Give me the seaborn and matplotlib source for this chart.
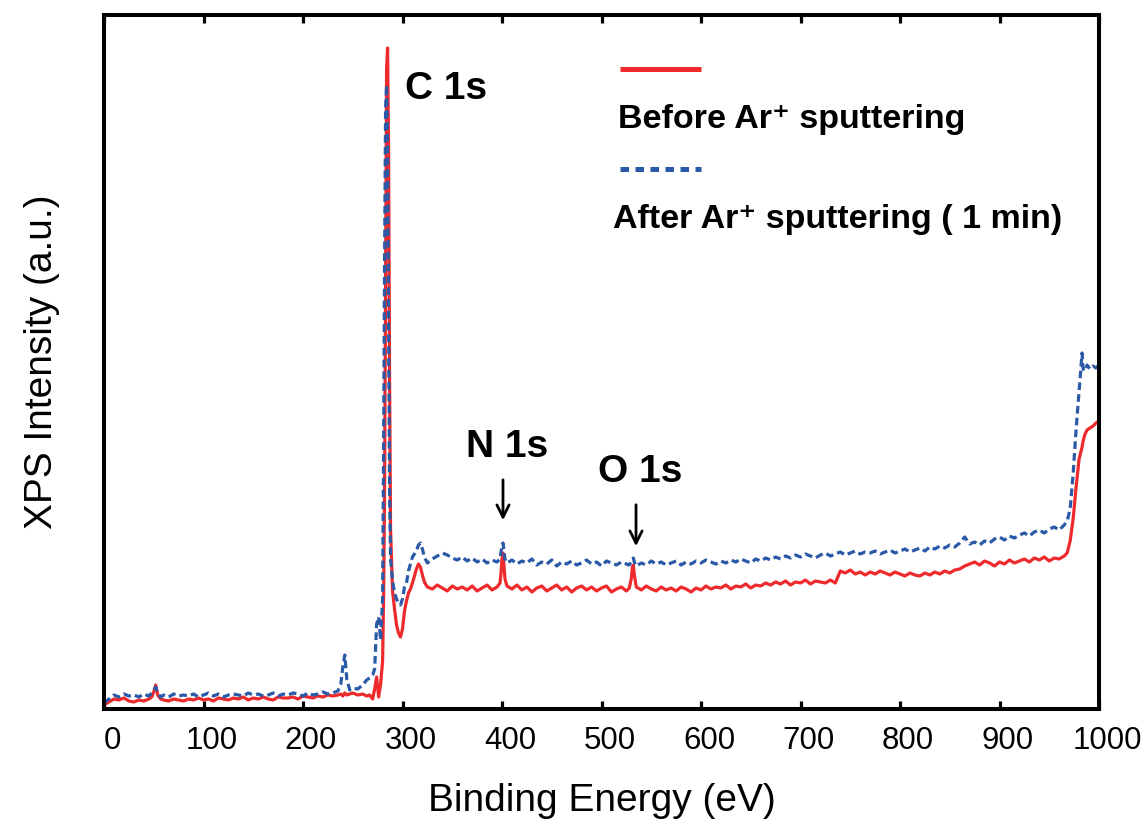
import numpy as np
import pandas as pd
import matplotlib
matplotlib.use("Agg")
import matplotlib.pyplot as plt
import matplotlib.transforms as mtransforms
import seaborn as sns

# Survey spectrum sampling grid (binding energy, eV)
energy = [
    0, 5, 10, 15, 20, 25, 30, 35, 40, 45,
    48, 50, 52, 54, 57, 60, 65, 70, 75, 80,
    85, 90, 95, 100, 105, 110, 115, 120, 125, 130,
    135, 140, 145, 150, 155, 160, 165, 170, 175, 180,
    185, 190, 195, 200, 205, 210, 215, 220, 225, 230,
    235, 238, 240, 242, 244, 247, 250, 255, 260, 264,
    267, 270, 272, 274, 276, 278, 280, 281, 282, 283,
    284, 285, 286, 287, 288, 290, 292, 294, 296, 298,
    300, 302, 304, 306, 308, 310, 312, 314, 316, 318,
    320, 322, 325, 330, 335, 340, 345, 350, 355, 360,
    365, 370, 375, 380, 385, 390, 395, 398, 399, 400,
    401, 402, 403, 405, 410, 415, 420, 425, 430, 435,
    440, 445, 450, 455, 460, 465, 470, 475, 480, 485,
    490, 495, 500, 505, 510, 515, 520, 525, 528, 530,
    531, 532, 533, 535, 540, 545, 550, 555, 560, 565,
    570, 575, 580, 585, 590, 595, 600, 605, 610, 615,
    620, 625, 630, 635, 640, 645, 650, 655, 660, 665,
    670, 675, 680, 685, 690, 695, 700, 705, 710, 715,
    720, 725, 730, 735, 740, 745, 750, 755, 760, 765,
    770, 775, 780, 785, 790, 795, 800, 805, 810, 815,
    820, 825, 830, 835, 840, 845, 850, 855, 860, 865,
    870, 875, 880, 885, 890, 895, 900, 905, 910, 915,
    920, 925, 930, 935, 940, 945, 950, 955, 960, 965,
    968, 971, 974, 977, 980, 983, 984, 986, 988, 991,
    994, 997, 1000,
]

# Intensity before Ar+ sputtering (a.u.)
before = [
    4, 7, 10, 9, 11, 8, 7, 9, 8, 10,
    12, 17, 24, 14, 10, 9, 8, 10, 9, 8,
    10, 9, 11, 9, 10, 8, 11, 10, 9, 11,
    10, 12, 9, 11, 10, 12, 10, 9, 12, 11,
    11, 12, 10, 13, 12, 11, 13, 12, 14, 13,
    14, 15, 13, 16, 14, 15, 16, 14, 15, 13,
    14, 10, 20, 32, 12, 25, 48, 110, 220, 430,
    640, 661, 560, 330, 180, 118, 100, 84, 76, 72,
    80, 98, 108, 116, 120, 126, 133, 140, 145, 142,
    134, 127, 122, 120, 124, 121, 118, 123, 120, 122,
    119, 123, 118, 121, 124, 119, 122, 126, 136, 150,
    156, 143, 130, 123, 120, 124, 119, 122, 117, 121,
    123, 118, 121, 124, 119, 122, 117, 121, 123, 119,
    122, 118, 121, 123, 117, 120, 122, 118, 121, 131,
    141, 144, 134, 122, 119, 123, 120, 118, 122, 119,
    121, 118, 122, 120, 117, 121, 119, 123, 120, 122,
    121, 124, 120, 123, 122, 125, 121, 124, 123, 126,
    124, 127, 125, 128, 124, 127, 126, 129, 125, 128,
    127, 126, 129, 126, 138, 136, 139, 135, 137, 134,
    137, 135, 138, 136, 134, 137, 135, 133, 136, 134,
    133, 136, 134, 137, 135, 138, 136, 139, 140, 143,
    145, 147, 144, 148, 146, 143, 147, 145, 149, 146,
    148, 150, 147, 151, 149, 152, 148, 151, 150, 153,
    156, 168, 190, 222, 250, 262, 268, 275, 279, 281,
    283, 286, 288,
]

# Intensity after 1 min Ar+ sputtering (a.u.)
after = [
    6, 10, 14, 12, 15, 13, 14, 12, 15, 13,
    16, 19, 22, 16, 12, 14, 12, 15, 13, 14,
    13, 15, 12, 14, 16, 13, 15, 12, 14, 15,
    14, 13, 16, 14, 15, 13, 14, 16, 13, 15,
    14, 16, 15, 13, 16, 14, 15, 17, 15, 16,
    18, 25, 42, 54, 30, 19, 21, 20, 24, 29,
    31, 34, 40, 85, 92, 69, 110, 260, 450, 600,
    624, 560, 380, 220, 150, 128, 116, 110, 106, 104,
    110, 122, 126, 138, 145, 152, 155, 158, 164, 166,
    160, 152, 146, 150, 153, 156, 154, 151, 149, 152,
    148, 151, 147, 150, 146, 149, 147, 150, 157, 163,
    166, 158, 150, 146, 149, 145, 148, 146, 150, 144,
    147, 145, 149, 143, 147, 145, 148, 144, 146, 149,
    145, 147, 143, 148, 146, 144, 147, 145, 144, 148,
    150, 151, 147, 143, 146, 144, 148, 145, 147, 144,
    146, 148, 144, 147, 145, 148, 146, 149, 147, 145,
    148, 146, 149, 147, 150, 148, 146, 150, 148, 151,
    149, 152, 150, 153, 151, 154, 152, 155, 153, 151,
    154, 156, 153, 155, 157, 154, 156, 158, 155, 157,
    156, 158, 155, 157, 159, 156, 158, 160, 157, 159,
    161, 158, 162, 160, 163, 161, 164, 162, 166, 172,
    165, 167, 164, 168, 166, 170, 172, 169, 173, 171,
    174, 176, 173, 177, 179, 176, 180, 182, 179, 184,
    188, 200, 235, 280, 318, 356, 340, 338, 344, 340,
    343, 341, 344,
]

series_labels = ["Before Ar\u207a sputtering", "After Ar\u207a sputtering ( 1 min)"]
peak_labels = ["C 1s", "N 1s", "O 1s"]
xticks = [0, 100, 200, 300, 400, 500, 600, 700, 800, 900, 1000]

RED = "#EE2A2C"
BLUE = "#2A59A8"

sns.set_style("white")
plt.rcParams["font.family"] = ["Liberation Sans", "DejaVu Sans"]
plt.rcParams["text.color"] = "black"
plt.rcParams["axes.labelcolor"] = "black"
plt.rcParams["xtick.color"] = "black"

df = pd.DataFrame({"energy": energy, "before": before, "after": after})

fig = plt.figure(figsize=(11.45, 8.23), dpi=100)
ax = fig.add_axes([104 / 1145, 114 / 823, 995 / 1145, 694 / 823])

sns.lineplot(data=df, x="energy", y="before", ax=ax, color=RED, lw=2.3,
             estimator=None, sort=False)
sns.lineplot(data=df, x="energy", y="after", ax=ax, color=BLUE, lw=2.3,
             estimator=None, sort=False, linestyle=(0, (2.4, 1.3)))

ax.set_xlim(0, 1000)
ax.set_ylim(0, 694)
ax.set_xticks(xticks)
ax.set_xticklabels([str(t) for t in xticks], fontsize=22.5, color="black")
ax.set_yticks([])
ax.tick_params(axis="x", which="both", direction="in", length=6, width=2.3,
               top=True, bottom=True, pad=12, color="black")

# tick labels sit slightly right of their ticks
shift = mtransforms.ScaledTranslation(0.08, 0, fig.dpi_scale_trans)
for lbl in ax.get_xticklabels():
    lbl.set_transform(lbl.get_transform() + shift)

for s in ax.spines.values():
    s.set_linewidth(2.9)
    s.set_color("black")

ax.set_xlabel("Binding Energy (eV)", fontsize=28, labelpad=20, color="black")
ax.set_ylabel("XPS Intensity (a.u.)", fontsize=28, labelpad=32, color="black")

# Peak labels
bold = dict(fontsize=28, fontweight="bold", color="black")
ax.text(302.5, 610, peak_labels[0], ha="left", va="baseline", **bold)
ax.text(405, 252, peak_labels[1], ha="center", va="baseline", **bold)
ax.text(539, 227, peak_labels[2], ha="center", va="baseline", **bold)

arrow = dict(arrowstyle="->", lw=2, color="black", mutation_scale=22)
ax.annotate("", xy=(401, 186), xytext=(401, 232), arrowprops=arrow)
ax.annotate("", xy=(534.7, 160), xytext=(534.7, 207), arrowprops=arrow)

# Legend: key line above each label
ax.plot([0.5186, 0.600], [0.9222, 0.9222], transform=ax.transAxes,
        color=RED, lw=3.6, solid_capstyle="butt")
ax.plot([0.5186, 0.600], [0.7781, 0.7781], transform=ax.transAxes,
        color=BLUE, lw=3.6, linestyle=(0, (1.7, 1.3)))
leg_font = dict(fontsize=24.5, fontweight="bold", color="black",
                family=["Liberation Sans", "DejaVu Sans"])
ax.text(0.5166, 0.8372, series_labels[0], transform=ax.transAxes,
        ha="left", va="baseline", **leg_font)
ax.text(0.5116, 0.6931, series_labels[1], transform=ax.transAxes,
        ha="left", va="baseline", **leg_font)

fig.savefig("out.png", dpi=100)
